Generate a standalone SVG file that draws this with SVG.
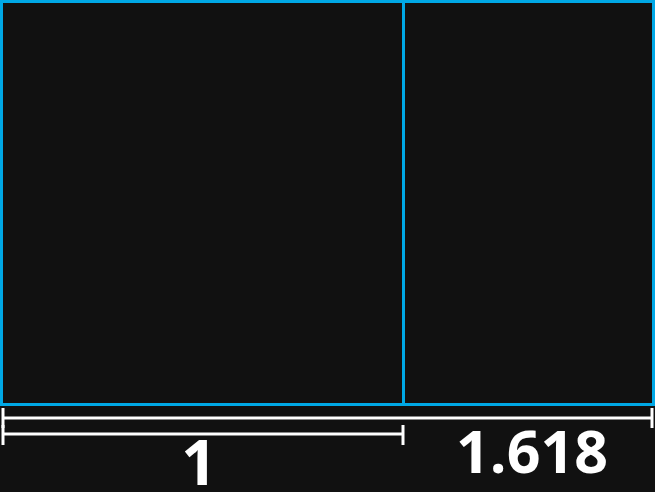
<svg xmlns="http://www.w3.org/2000/svg" width="655" height="492" viewBox="0 0 655 492">
<style>
.box{fill:#111111;stroke:#00a8e6;stroke-width:3}
.dim{stroke:#ffffff;stroke-width:3;fill:none}
.lbl{fill:#ffffff;font-family:"Open Sans","Noto Sans",sans-serif;font-weight:bold}
</style>
<rect width="655" height="492" fill="#111111"/>
<g id="rect-large"><rect class="box" x="1.5" y="1.5" width="402" height="403"/></g>
<g id="rect-small"><rect class="box" x="403.5" y="1.5" width="250" height="403"/></g>
<g id="connectors">
<path class="dim" d="M3,418 H652 M3,408 V428 M652,408 V428"/>
<path class="dim" d="M3,434 H403 M3,425 V445 M403,425 V445"/>
</g>
<g id="label-1"><text class="lbl" x="199" y="485" font-size="62" text-anchor="middle">1</text></g>
<g id="label-1618"><text class="lbl" x="532" y="473" font-size="59" text-anchor="middle">1.618</text></g>
</svg>
